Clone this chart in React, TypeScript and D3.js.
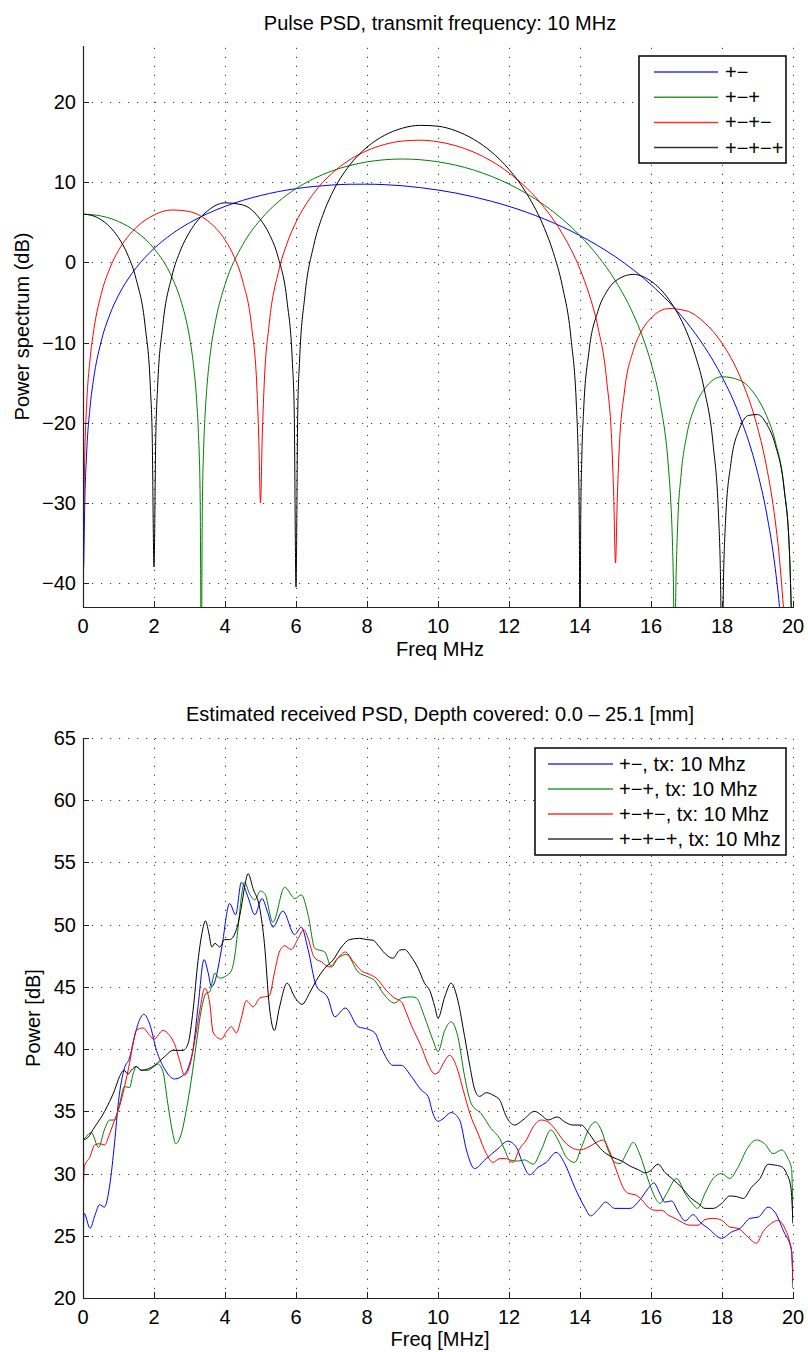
import React from "react";
import * as d3 from "d3";

type Pt = [number, number];

// axis ticks
const freqTicks = [0, 2, 4, 6, 8, 10, 12, 14, 16, 18, 20];
const pulseDbTicks = [-40, -30, -20, -10, 0, 10, 20];
const powerTicks = [20, 25, 30, 35, 40, 45, 50, 55, 60, 65];

const pulseNames = ["+−", "+−+", "+−+−", "+−+−+"];
const rxNames = ["+−, tx: 10 Mhz", "+−+, tx: 10 Mhz", "+−+−, tx: 10 Mhz", "+−+−+, tx: 10 Mhz"];
const lineColors = ["#0000ff", "#008000", "#ff0000", "#000000"];

// pulse PSD, [MHz, dB]
const pulse2: Pt[] = [[0.02,-38],[0.05,-30.06],[0.1,-24.04],[0.2,-18.02],[0.3,-14.5],[0.5,-10.07],[0.75,-6.57],[1,-4.1],[1.25,-2.2],[1.5,-0.66],[2,1.73],[2.5,3.53],[3,4.94],[3.5,6.07],[4,6.99],[4.5,7.74],[5,8.34],[5.5,8.83],[6,9.2],[6.5,9.47],[7,9.65],[7.5,9.75],[8,9.76],[8.5,9.7],[9,9.56],[9.5,9.33],[10,9.03],[10.5,8.65],[11,8.18],[11.5,7.63],[12,6.99],[12.5,6.25],[13,5.4],[13.5,4.44],[14,3.34],[14.5,2.1],[15,0.69],[15.5,-0.92],[16,-2.78],[16.5,-4.92],[17,-7.45],[17.5,-10.5],[18,-14.27],[18.5,-19.19],[19,-26.18],[19.25,-31.16],[19.5,-38.19],[19.6,-42.06],[19.75,-50.2]];
const pulse3: Pt[] = [[0,6.02],[0.5,5.8],[1,5.1],[1.5,3.82],[2,1.73],[2.5,-1.8],[2.75,-4.67],[3,-9.33],[3.1,-12.36],[3.2,-17.15],[3.25,-21.2],[3.3,-29.13],[3.333,-50],[3.36,-31.04],[3.4,-23.05],[3.45,-18.16],[3.5,-15.03],[3.6,-10.9],[3.75,-6.95],[4,-2.78],[4.5,2.21],[5,5.33],[5.5,7.55],[6,9.2],[6.5,10.45],[7,11.39],[7.5,12.07],[8,12.54],[8.5,12.81],[9,12.9],[9.5,12.81],[10,12.55],[10.5,12.13],[11,11.53],[11.5,10.74],[12,9.77],[12.5,8.57],[13,7.13],[13.5,5.41],[14,3.34],[14.5,0.82],[15,-2.32],[15.5,-6.45],[15.75,-9.14],[16,-12.54],[16.25,-17.32],[16.5,-26.03],[16.55,-29.28],[16.6,-34.31],[16.63,-39.63],[16.667,-50],[16.7,-40.66],[16.75,-32.87],[16.85,-26.37],[17,-21.73],[17.25,-17.85],[17.5,-15.83],[18,-14.27],[18.5,-14.71],[19,-16.98],[19.25,-19.08],[19.5,-22.32],[19.75,-28.17],[19.9,-36.1],[19.97,-46.5]];
const pulse4: Pt[] = [[0.02,-32],[0.05,-24.04],[0.1,-18.02],[0.2,-12.02],[0.3,-8.54],[0.5,-4.16],[0.75,-0.79],[1,1.49],[1.25,3.14],[1.5,4.36],[2,5.91],[2.5,6.54],[3,6.34],[3.5,5.23],[4,2.81],[4.25,0.77],[4.5,-2.36],[4.75,-8.03],[4.9,-15.8],[4.95,-21.77],[5,-30],[5.05,-21.66],[5.1,-15.59],[5.25,-7.49],[5.5,-1.27],[5.75,2.41],[6,5.02],[6.5,8.63],[7,11.06],[7.5,12.76],[8,13.94],[8.5,14.72],[9,15.14],[9.5,15.25],[10,15.05],[10.5,14.56],[11,13.77],[11.5,12.65],[12,11.17],[12.5,9.26],[13,6.81],[13.5,3.6],[14,-0.84],[14.25,-3.88],[14.5,-7.99],[14.75,-14.67],[14.9,-23.05],[14.95,-29.22],[15,-37.5],[15.05,-29.52],[15.1,-23.65],[15.25,-16.18],[15.5,-11.02],[15.75,-8.43],[16,-6.96],[16.5,-5.76],[17,-6.05],[17.5,-7.49],[18,-10.09],[18.5,-14.17],[19,-20.6],[19.25,-25.38],[19.5,-32.27],[19.6,-36.11],[19.75,-44.23]];
const pulse5: Pt[] = [[0,6.02],[0.25,5.86],[0.5,5.35],[0.75,4.46],[1,3.09],[1.25,1.04],[1.5,-2.14],[1.75,-7.93],[1.9,-15.79],[1.95,-21.79],[2,-38],[2.05,-21.75],[2.1,-15.72],[2.25,-7.76],[2.5,-1.8],[2.75,1.55],[3,3.77],[3.5,6.39],[4,7.43],[4.5,7.16],[5,5.33],[5.25,3.52],[5.5,0.59],[5.75,-4.93],[5.9,-12.62],[5.95,-18.56],[6,-40.5],[6.05,-18.41],[6.1,-12.32],[6.25,-4.16],[6.5,2.13],[6.75,5.85],[7,8.48],[7.5,12.07],[8,14.38],[8.5,15.87],[9,16.75],[9.5,17.1],[10,16.99],[10.5,16.42],[11,15.37],[11.5,13.8],[12,11.61],[12.5,8.57],[13,4.23],[13.25,1.21],[13.5,-2.9],[13.75,-9.6],[13.9,-18.01],[13.95,-24.18],[13.98,-32.24],[14,-50],[14.02,-32.37],[14.05,-24.5],[14.1,-18.65],[14.25,-11.21],[14.5,-6.14],[14.75,-3.66],[15,-2.32],[15.5,-1.5],[16,-2.34],[16.5,-4.61],[17,-8.62],[17.25,-11.63],[17.5,-15.83],[17.75,-22.72],[17.9,-31.3],[17.95,-37.54],[18,-50],[18.05,-38.02],[18.1,-32.25],[18.25,-25.11],[18.5,-20.68],[18.75,-19.09],[19,-18.99],[19.25,-20.12],[19.5,-22.76],[19.75,-28.28],[19.9,-36.1],[19.97,-46.5]];

// estimated received PSD, [MHz, dB]
const rx2: Pt[] = [[0,23.6],[0.03,26.8],[0.2,25.6],[0.33,26.6],[0.47,27.5],[0.6,27.3],[0.75,29.0],[0.89,32.5],[1.0,35.8],[1.17,38.5],[1.3,39.2],[1.45,41.0],[1.6,42.4],[1.71,42.8],[1.88,42.0],[2.07,39.9],[2.3,38.4],[2.58,37.6],[2.86,38.0],[3.0,38.8],[3.1,40.0],[3.24,43.4],[3.41,47.2],[3.52,46.2],[3.62,45.0],[3.71,45.4],[3.9,48.0],[4.13,51.7],[4.3,50.8],[4.46,53.4],[4.65,52.2],[4.84,50.8],[5.04,52.1],[5.2,51.0],[5.35,49.8],[5.63,51.1],[5.96,49.2],[6.15,49.8],[6.34,48.0],[6.57,45.1],[6.9,44.1],[7.09,42.6],[7.39,43.3],[7.75,41.8],[8.03,41.6],[8.22,41.3],[8.45,39.8],[8.73,38.7],[8.96,38.7],[9.25,37.8],[9.53,36.7],[9.72,36.2],[9.86,34.8],[10.0,34.2],[10.14,34.4],[10.37,34.9],[10.61,34.3],[10.8,31.9],[11.03,30.4],[11.32,31.1],[11.69,32.0],[11.97,32.6],[12.21,32.1],[12.39,30.8],[12.58,29.9],[12.82,30.5],[13.05,30.9],[13.33,31.7],[13.57,30.8],[13.85,28.9],[14.13,27.3],[14.3,26.6],[14.51,27.1],[14.72,27.7],[14.98,27.2],[15.41,27.2],[15.69,27.9],[15.92,28.8],[16.08,29.25],[16.25,28.4],[16.39,27.7],[16.58,27.8],[16.77,26.9],[16.96,26.2],[17.19,26.7],[17.38,26.1],[17.61,25.6],[17.99,24.8],[18.27,25.3],[18.51,25.6],[18.79,26.4],[19.02,26.5],[19.3,27.3],[19.49,26.9],[19.73,25.4],[19.96,23.8],[20,20.8]];
const rx3: Pt[] = [[0,32.7],[0.1,33.0],[0.23,33.3],[0.44,32.1],[0.6,33.5],[0.75,34.3],[0.89,34.3],[1.03,35.6],[1.17,37.0],[1.31,36.9],[1.41,38.0],[1.5,38.6],[1.64,38.3],[1.83,38.3],[2.0,38.6],[2.11,38.8],[2.25,38.2],[2.39,35.6],[2.53,33.2],[2.61,32.4],[2.77,33.2],[2.91,35.1],[3.05,37.5],[3.19,40.4],[3.33,43.1],[3.47,44.5],[3.57,44.6],[3.71,46.1],[3.85,45.7],[4.04,45.9],[4.18,46.3],[4.27,47.4],[4.37,49.8],[4.46,52.2],[4.55,53.4],[4.69,52.5],[4.84,52.0],[5.0,52.7],[5.12,52.5],[5.35,50.2],[5.68,53.0],[5.97,52.1],[6.15,52.4],[6.34,50.8],[6.53,48.1],[6.81,47.8],[7.0,46.6],[7.18,47.3],[7.42,47.6],[7.75,46.2],[8.03,45.8],[8.22,45.5],[8.45,44.5],[8.78,43.7],[8.97,44.1],[9.25,44.2],[9.39,44.1],[9.62,42.6],[9.86,40.7],[10.0,39.8],[10.19,41.5],[10.37,42.2],[10.56,41.0],[10.75,37.8],[10.94,35.6],[11.22,34.8],[11.5,33.6],[11.74,32.8],[11.88,31.9],[12.02,31.1],[12.25,31.0],[12.44,31.1],[12.68,30.75],[12.91,31.9],[13.18,33.5],[13.38,32.7],[13.62,31.3],[13.85,30.9],[14.04,32.1],[14.27,33.7],[14.43,34.15],[14.6,33.5],[14.79,31.9],[14.98,30.9],[15.13,30.8],[15.32,31.7],[15.5,32.5],[15.69,31.5],[15.92,29.5],[16.11,28.1],[16.25,27.6],[16.44,28.4],[16.72,29.6],[16.96,28.4],[17.19,27.5],[17.31,27.2],[17.52,28.4],[17.75,29.6],[17.99,30.0],[18.22,29.6],[18.45,30.5],[18.73,32.1],[18.97,32.7],[19.2,32.4],[19.44,31.6],[19.68,31.9],[19.86,31.2],[19.96,30.4],[20,26.0]];
const rx4: Pt[] = [[0,27.8],[0.04,30.6],[0.19,31.3],[0.33,32.3],[0.47,32.4],[0.61,32.3],[0.75,33.2],[0.89,34.3],[1.03,35.4],[1.17,37.0],[1.31,38.85],[1.41,40.4],[1.5,41.5],[1.69,41.7],[1.88,41.1],[2.0,40.8],[2.25,41.5],[2.44,41.1],[2.58,40.4],[2.72,39.1],[2.86,37.9],[3.0,38.6],[3.15,40.7],[3.29,43.1],[3.43,44.9],[3.57,43.7],[3.66,41.4],[3.8,40.9],[3.9,40.8],[4.04,41.4],[4.18,41.8],[4.32,41.3],[4.46,42.5],[4.6,43.9],[4.79,43.4],[4.98,44.1],[5.25,44.3],[5.39,46.1],[5.53,47.8],[5.68,48.3],[5.87,48.0],[6.06,48.9],[6.22,49.6],[6.34,48.9],[6.51,47.4],[6.72,47.0],[6.95,46.6],[7.17,47.3],[7.39,47.8],[7.6,47.1],[7.84,46.3],[8.08,46.0],[8.26,45.7],[8.55,44.7],[8.78,44.1],[8.97,43.8],[9.11,42.9],[9.25,41.9],[9.53,40.2],[9.72,38.8],[9.91,38.0],[10.05,38.3],[10.14,38.8],[10.33,39.5],[10.52,38.6],[10.71,36.7],[10.9,34.8],[11.13,33.2],[11.36,31.6],[11.55,30.9],[11.74,31.2],[11.92,31.2],[12.11,30.9],[12.3,32.0],[12.49,32.7],[12.68,33.75],[12.91,34.3],[13.1,34.15],[13.29,33.6],[13.52,32.7],[13.75,32.1],[13.99,31.9],[14.22,32.1],[14.46,32.5],[14.65,32.7],[14.83,31.8],[15.02,30.3],[15.21,28.9],[15.36,28.4],[15.55,28.3],[15.74,27.9],[15.92,27.3],[16.11,27.05],[16.3,27.05],[16.49,26.65],[16.68,26.4],[16.86,26.1],[17.1,25.85],[17.33,25.85],[17.52,26.3],[17.75,26.4],[17.99,26.25],[18.22,25.7],[18.45,25.6],[18.73,24.9],[18.97,24.4],[19.16,25.35],[19.39,26.0],[19.58,26.25],[19.77,25.6],[19.91,24.5],[19.96,23.8],[20,21.2]];
const rx5: Pt[] = [[0,32.7],[0.14,32.9],[0.33,33.75],[0.52,34.55],[0.7,35.5],[0.89,36.7],[1.03,37.8],[1.15,38.3],[1.27,38.0],[1.36,38.3],[1.5,38.6],[1.64,38.3],[1.83,38.4],[2.02,38.7],[2.3,39.4],[2.54,39.9],[2.82,39.9],[2.96,40.45],[3.1,43.1],[3.24,47.1],[3.35,49.3],[3.45,50.3],[3.54,49.4],[3.63,48.2],[3.72,48.5],[3.85,48.2],[3.99,48.8],[4.13,48.8],[4.32,49.6],[4.46,51.4],[4.55,53.0],[4.65,54.1],[4.79,52.9],[4.98,51.3],[5.11,48.5],[5.25,43.4],[5.39,41.5],[5.53,43.3],[5.75,45.3],[5.96,44.2],[6.17,43.6],[6.38,44.5],[6.57,45.5],[6.81,46.5],[7.04,47.15],[7.28,48.2],[7.51,48.8],[7.79,48.9],[8.0,48.8],[8.17,48.75],[8.31,48.35],[8.5,47.7],[8.73,47.3],[8.92,47.95],[9.06,48.0],[9.25,47.4],[9.44,46.5],[9.62,45.3],[9.77,44.7],[9.91,43.4],[10.0,42.5],[10.19,44.2],[10.37,45.3],[10.56,43.9],[10.75,41.0],[10.9,38.6],[11.03,36.8],[11.17,36.2],[11.36,36.5],[11.55,36.3],[11.74,35.9],[11.92,34.6],[12.16,33.9],[12.39,34.3],[12.72,35.0],[12.91,34.7],[13.1,34.3],[13.36,34.55],[13.57,34.15],[13.8,33.9],[14.04,33.9],[14.22,33.35],[14.46,32.4],[14.69,31.7],[14.93,31.3],[15.18,31.0],[15.41,30.6],[15.65,30.3],[15.83,30.05],[15.97,30.2],[16.2,30.75],[16.39,30.1],[16.63,29.5],[16.86,28.9],[17.1,28.1],[17.33,27.6],[17.52,27.2],[17.75,27.2],[17.99,27.6],[18.22,28.2],[18.41,28.15],[18.6,28.0],[18.83,28.9],[19.07,29.6],[19.3,30.75],[19.44,30.7],[19.68,30.55],[19.82,30.0],[19.94,28.9],[20,26.0]];

const FONT = "'Liberation Sans', Arial, Helvetica, sans-serif";
const X0 = 83;
const X1 = 793;
const GRID = "#3c3c3c";

type LegendBox = { x0: number; x1: number; y0: number; y1: number; l0: number; l1: number; tx: number; row0: number; step: number };

type PanelProps = {
  id: string;
  top: number;
  bottom: number;
  yDomain: [number, number];
  yTicks: number[];
  series: Pt[][];
  names: string[];
  title: string;
  titleY: number;
  xLabel: string;
  xLabelY: number;
  yLabel: string;
  yLabelX: number;
  legend: LegendBox;
};

const fmt = (v: number) => (v < 0 ? "−" + Math.abs(v) : String(v));
const crisp = (v: number) => Math.round(v) + 0.5;

function Panel(p: PanelProps) {
  const x = d3.scaleLinear().domain([0, 20]).range([X0, X1]);
  const y = d3.scaleLinear().domain(p.yDomain).range([p.bottom, p.top]);
  const line = d3
    .line<Pt>()
    .x((d) => x(d[0]))
    .y((d) => y(d[1]))
    .curve(d3.curveMonotoneX);
  const cx = (X0 + X1) / 2 + 2;
  const lg = p.legend;

  return (
    <g fontFamily={FONT} fontSize={20} fill="#000">
      <defs>
        <clipPath id={p.id}>
          <rect x={X0} y={p.top} width={X1 - X0} height={p.bottom - p.top} />
        </clipPath>
      </defs>

      {/* dotted grid */}
      {freqTicks.map((t) => (
        <line key={"gx" + t} x1={crisp(x(t))} x2={crisp(x(t))} y1={p.bottom} y2={p.top}
          stroke={GRID} strokeWidth={1} strokeDasharray="1.2 7.8" />
      ))}
      {p.yTicks.map((t) => (
        <line key={"gy" + t} x1={X0} x2={X1} y1={crisp(y(t))} y2={crisp(y(t))}
          stroke={GRID} strokeWidth={1} strokeDasharray="1.2 7.8" />
      ))}

      <g clipPath={`url(#${p.id})`} fill="none" strokeWidth={1}>
        {p.series.map((s, i) => (
          <path key={i} d={line(s) || ""} stroke={lineColors[i]} />
        ))}
      </g>

      {/* axes */}
      <line x1={crisp(X0)} x2={crisp(X0)} y1={p.top} y2={crisp(p.bottom)} stroke="#222" strokeWidth={1.2} />
      <line x1={X0} x2={X1 + 1} y1={crisp(p.bottom)} y2={crisp(p.bottom)} stroke="#222" strokeWidth={1.2} />
      {freqTicks.map((t) => (
        <g key={"tx" + t}>
          <line x1={crisp(x(t))} x2={crisp(x(t))} y1={p.bottom} y2={p.bottom - 6} stroke="#222" />
          <text x={x(t)} y={p.bottom + 25.5} textAnchor="middle">{fmt(t)}</text>
        </g>
      ))}
      {p.yTicks.map((t) => (
        <g key={"ty" + t}>
          <line x1={X0} x2={X0 + 6} y1={crisp(y(t))} y2={crisp(y(t))} stroke="#222" />
          <text x={76} y={y(t) + 7} textAnchor="end">{fmt(t)}</text>
        </g>
      ))}

      <text x={cx} y={p.titleY} textAnchor="middle">{p.title}</text>
      <text x={cx} y={p.xLabelY} textAnchor="middle">{p.xLabel}</text>
      <text transform={`translate(${p.yLabelX},${(p.top + p.bottom) / 2}) rotate(-90)`} textAnchor="middle">
        {p.yLabel}
      </text>

      {/* legend */}
      <rect x={lg.x0} y={lg.y0} width={lg.x1 - lg.x0} height={lg.y1 - lg.y0} fill="#fff" stroke="#000" strokeWidth={1.5} />
      {p.names.map((n, i) => {
        const ry = lg.row0 + i * lg.step;
        return (
          <g key={n}>
            <line x1={lg.l0} x2={lg.l1} y1={ry} y2={ry} stroke={lineColors[i]} strokeWidth={1.5} opacity={0.8} />
            <text x={lg.tx} y={ry + 7}>{n}</text>
          </g>
        );
      })}
    </g>
  );
}

export default function App() {
  return (
    <svg width={808} height={1352} style={{ position: "absolute", left: 0, top: 0, background: "#fff" }}>
      <Panel
        id="clip-pulse"
        top={46}
        bottom={607}
        yDomain={[-43, 27]}
        yTicks={pulseDbTicks}
        series={[pulse2, pulse3, pulse4, pulse5]}
        names={pulseNames}
        title="Pulse PSD, transmit frequency: 10 MHz"
        titleY={30}
        xLabel="Freq MHz"
        xLabelY={656}
        yLabel="Power spectrum (dB)"
        yLabelX={29}
        legend={{ x0: 639, x1: 786, y0: 56, y1: 163, l0: 654, l1: 718, tx: 725, row0: 72, step: 25.2 }}
      />
      <Panel
        id="clip-rx"
        top={738}
        bottom={1298}
        yDomain={[20, 65]}
        yTicks={powerTicks}
        series={[rx2, rx3, rx4, rx5]}
        names={rxNames}
        title="Estimated received PSD, Depth covered: 0.0 – 25.1 [mm]"
        titleY={721}
        xLabel="Freq [MHz]"
        xLabelY={1346}
        yLabel="Power [dB]"
        yLabelX={40}
        legend={{ x0: 535, x1: 786, y0: 748, y1: 855, l0: 548, l1: 613, tx: 619, row0: 764, step: 25 }}
      />
    </svg>
  );
}
